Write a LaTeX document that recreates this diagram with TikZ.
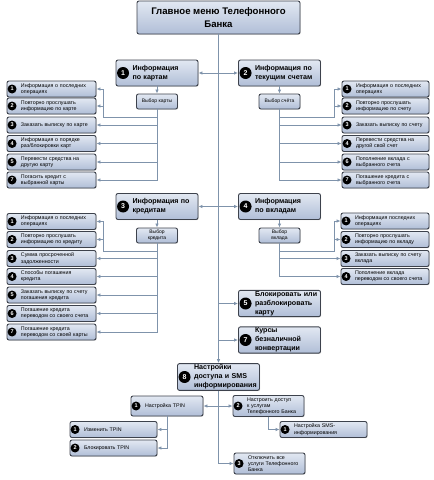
\documentclass[tikz,border=0pt]{standalone}
\usepackage{fontspec}
\setmainfont{Liberation Sans}
\usetikzlibrary{arrows.meta,shadows}
\definecolor{boxtop}{HTML}{E2E8F2}
\definecolor{boxbot}{HTML}{B0BED7}
\definecolor{boxline}{HTML}{3D424C}
\definecolor{linecol}{HTML}{7F93AB}
\newcommand\sbfont{\fontsize{5.3}{6.2}\selectfont}
\newcommand\mnfont{\bfseries\fontsize{7.1}{9}\selectfont}

\begin{document}
\begin{tikzpicture}[x=1pt,y=-1pt,
  box/.style={rectangle, rounded corners=2pt, draw=boxline, line width=0.9pt, top color=boxtop, bottom color=boxbot, drop shadow={shadow xshift=0.7pt, shadow yshift=-0.7pt, opacity=0.35}},
  ttl/.style={box, align=center, minimum width=163pt, minimum height=33pt, font=\bfseries\fontsize{9.6}{13}\selectfont},
  main/.style={box, align=left, text width=78pt, inner xsep=2pt, inner ysep=1pt, minimum height=26pt, font=\mnfont, execute at begin node={\leftskip=14.5pt}},
  sub/.style={box, align=left, text width=#1, inner xsep=2pt, inner ysep=1pt, minimum height=16pt, font=\sbfont, execute at begin node={\leftskip=12pt}},
  sub/.default=85pt,
  sel/.style={box, align=center, minimum width=41pt, minimum height=15pt, inner sep=1pt, font=\fontsize{5}{6}\selectfont},
  badge/.style={circle, fill=black, text=white, inner sep=0pt, minimum size=9pt, font=\bfseries\fontsize{5.5}{5.5}\selectfont, text width={}, execute at begin node={}},
  num/.style={label={[badge, anchor=center, xshift=5.5pt]west:#1}},
  bignum/.style={label={[badge, minimum size=12pt, font=\bfseries\fontsize{7}{7}\selectfont, anchor=center, xshift=7.5pt]west:#1}},
  line/.style={draw=linecol, line width=0.8pt},
  conn/.style={line, -{Latex[length=4pt,width=3.5pt]}}]
\useasboundingbox (0,0) rectangle (434,480);
\node[ttl] (menu) at (218.5,17.5) {Главное меню Телефонного\\Банка};
\node[main, bignum=1] (kart) at (157,73) {Информация\\по~картам};
\node[main, bignum=2] (schet) at (279.5,73) {Информация~по\\текущим~счетам};
\node[sel] (vk) at (157,101.5) {Выбор карты};
\node[sel] (vs) at (279.5,101.5) {Выбор счёта};
\node[sub, num=1] (c1) at (51.5,89) {Информация о последних\\операциях};
\node[sub, num=2] (c2) at (51.5,106) {Повторно прослушать\\информацию по карте};
\node[sub, num=3] (c3) at (51.5,125) {Заказать выписку по карте};
\node[sub, num=4] (c4) at (51.5,143.5) {Информация о порядке\\раз/блокировки карт};
\node[sub, num=5] (c5) at (51.5,162) {Перевести средства на\\другую карту};
\node[sub, num=7] (c6) at (51.5,180) {Погасить кредит с\\выбранной карты};
\node[sub=83pt, num=1] (s1) at (385.5,89) {Информация о последних\\операциях};
\node[sub=83pt, num=2] (s2) at (385.5,106) {Повторно прослушать\\информацию по счету};
\node[sub=83pt, num=3] (s3) at (385.5,125) {Заказать выписку по счету};
\node[sub=83pt, num=4] (s4) at (385.5,143.5) {Перевести средства на\\другой свой счет};
\node[sub=83pt, num=6] (s5) at (385.5,162) {Пополнение вклада с\\выбранного счета};
\node[sub=83pt, num=7] (s6) at (385.5,180) {Погашение кредита с\\выбранного счета};
\node[main, bignum=3] (kred) at (157,206.5) {Информация~по\\кредитам};
\node[main, bignum=4] (vkl) at (279.5,206.5) {Информация\\по~вкладам};
\node[sel] (vkr) at (157,235.5) {Выбор\\кредита};
\node[sel] (vv) at (279.5,235.5) {Выбор\\вклада};
\node[sub, num=1] (k1) at (51.5,221.5) {Информация о последних\\операциях};
\node[sub, num=2] (k2) at (51.5,239.5) {Повторно прослушать\\информацию по кредиту};
\node[sub, num=3] (k3) at (51.5,258.5) {Сумма просроченной\\задолженности};
\node[sub, num=4] (k4) at (51.5,276.5) {Способы погашения\\кредита};
\node[sub, num=5] (k5) at (51.5,295) {Заказать выписку по счету\\погашения кредита};
\node[sub, num=6] (k6) at (51.5,313.5) {Погашение кредита\\переводом со своего счета};
\node[sub, num=7] (k7) at (51.5,332) {Погашение кредита\\переводом со своей карты};
\node[sub=84pt, num=1] (v1) at (385,221) {Информация последних\\операциях};
\node[sub=84pt, num=2] (v2) at (385,239.5) {Повторно прослушать\\информацию по вкладу};
\node[sub=84pt, num=3] (v3) at (385,258.5) {Заказать выписку по счету\\вклада};
\node[sub=84pt, num=4] (v4) at (385,276.5) {Пополнение вклада\\переводом со своего счета};
\node[main, bignum=5] (blok) at (279.5,303.5) {Блокировать~или\\разблокировать\\карту};
\node[main, bignum=7] (kurs) at (279.5,340) {Курсы\\безналичной\\конвертации};
\node[main, bignum=8] (nastr) at (218.5,377) {Настройки\\доступа~и~SMS\\информирования};
\node[sub=68pt, num=1, minimum height=20pt] (tpin) at (167,406) {Настройка TPIN};
\node[sub=67pt, num=2, minimum height=21pt] (dost) at (268.5,406) {Настроить доступ\\к услугам\\Телефонного Банка};
\node[sub=83pt, num=1] (tpin1) at (113.5,429.5) {Изменить TPIN};
\node[sub=83pt, num=2] (tpin2) at (113.5,448) {Блокировать TPIN};
\node[sub=83pt, num=1] (sms) at (323.5,429.5) {Настройка SMS-\\информирования};
\node[sub=67pt, num=3, minimum height=21pt] (otkl) at (269.5,463.5) {Отключить все\\услуги Телефонного\\Банка};
\coordinate (cj) at (103,117);
\coordinate (sj) at (334,117);
\coordinate (kj) at (103,251);
\coordinate (vj) at (334,251);
\draw[conn] (menu) -- (nastr);
\draw[conn] (menu.south |- kart.east) -- (kart.east);
\draw[conn] (menu.south |- schet.west) -- (schet.west);
\draw[conn] (menu.south |- kred.east) -- (kred.east);
\draw[conn] (menu.south |- vkl.west) -- (vkl.west);
\draw[conn] (menu.south |- blok.west) -- (blok.west);
\draw[conn] (menu.south |- kurs.west) -- (kurs.west);
\draw[conn] (kart) -- (vk);
\draw[conn] (schet) -- (vs);
\draw[conn] (kred) -- (vkr);
\draw[conn] (vkl) -- (vv);
\draw[conn] (vk) |- (cj) |- (c1);
\draw[conn] (cj) |- (c2);
\draw[conn] (vk) |- (c3);
\draw[conn] (vk) |- (c4);
\draw[conn] (vk) |- (c5);
\draw[conn] (vk) |- (c6);
\draw[conn] (vs) |- (sj) |- (s1);
\draw[conn] (sj) |- (s2);
\draw[conn] (vs) |- (s3);
\draw[conn] (vs) |- (s4);
\draw[conn] (vs) |- (s5);
\draw[conn] (vs) |- (s6);
\draw[conn] (vkr) |- (kj) |- (k1);
\draw[conn] (kj) |- (k2);
\draw[conn] (vkr) |- (k3);
\draw[conn] (vkr) |- (k4);
\draw[conn] (vkr) |- (k5);
\draw[conn] (vkr) |- (k6);
\draw[conn] (vkr) |- (k7);
\draw[conn] (vv) |- (vj) |- (v1);
\draw[conn] (vj) |- (v2);
\draw[conn] (vv) |- (v3);
\draw[conn] (vv) |- (v4);
\draw[conn] (nastr.south |- tpin.east) -- (tpin.east);
\draw[conn] (nastr.south |- dost.west) -- (dost.west);
\draw[conn] (nastr) |- (otkl);
\draw[conn] (tpin) |- (tpin1);
\draw[conn] (tpin) |- (tpin2);
\draw[conn] (dost) |- (sms);
\end{tikzpicture}
\end{document}
